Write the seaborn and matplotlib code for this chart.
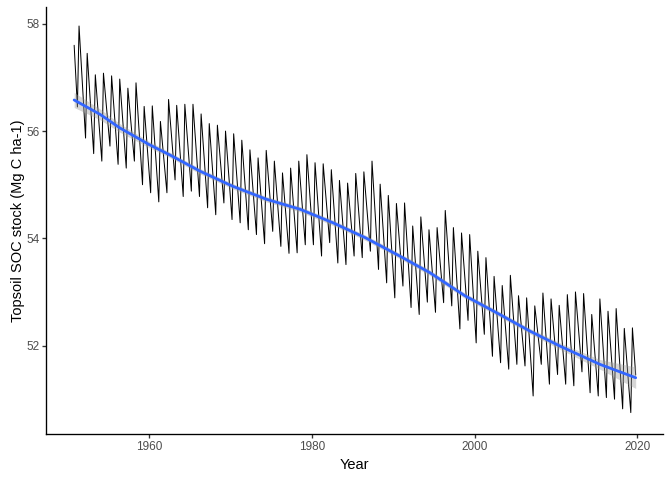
import numpy as np
import pandas as pd
import matplotlib
matplotlib.use("Agg")
import matplotlib.pyplot as plt
import seaborn as sns

# ---------------- data ----------------
years = list(range(1951, 2020))
peaks = [57.96, 57.45, 57.05, 57.08, 57.03, 56.97, 56.80, 56.90, 56.46, 56.47,
         56.18, 56.59, 56.48, 56.50, 56.50, 56.32, 56.14, 56.11, 56.00, 55.95,
         55.83, 55.65, 55.50, 55.64, 55.44, 55.22, 55.31, 55.44, 55.56, 55.41,
         55.39, 55.28, 55.08, 55.03, 55.21, 55.24, 55.44, 55.01, 54.80, 54.65,
         54.66, 54.23, 54.40, 54.16, 54.20, 54.52, 54.20, 54.10, 54.07, 53.76,
         53.64, 53.29, 53.12, 53.31, 52.93, 52.89, 52.74, 52.98, 52.87, 52.75,
         52.95, 53.00, 52.97, 52.58, 52.87, 52.64, 52.69, 52.32, 52.33]
troughs = [56.45, 55.87, 55.58, 55.44, 55.72, 55.38, 55.31, 55.44, 55.00, 54.85,
           54.68, 54.85, 55.09, 54.78, 54.88, 54.78, 54.57, 54.44, 54.66, 54.35,
           54.29, 54.16, 54.07, 53.90, 54.13, 53.85, 53.72, 53.73, 53.88, 53.88,
           53.67, 53.92, 53.54, 53.51, 53.67, 53.64, 53.76, 53.42, 53.17, 52.89,
           53.11, 52.71, 52.58, 52.81, 52.62, 52.80, 52.74, 52.31, 52.47, 52.05,
           52.21, 51.80, 51.68, 51.56, 51.65, 51.62, 51.06, 51.65, 51.28, 51.46,
           51.28, 51.25, 51.51, 51.12, 51.06, 51.03, 51.00, 50.82, 50.75]
start_year, start_value = 1950.8, 57.60
end_year, end_value = 2019.8, 51.45
trough_offset, peak_offset = 0.2, 0.4

# smoothed trend (blue line) and its confidence half-width
smooth_years = [1950.8, 1954.0, 1956.4, 1960.0, 1962.5, 1966.3, 1970.3, 1974.4,
                1978.6, 1982.6, 1986.6, 1990.8, 1994.5, 1998.8, 2003.1, 2006.8,
                2010.5, 2015.4, 2019.8]
smooth_values = [56.58, 56.31, 56.06, 55.75, 55.56, 55.25, 54.97, 54.73,
                 54.54, 54.29, 54.01, 53.67, 53.36, 52.93, 52.58, 52.27,
                 51.99, 51.65, 51.40]
smooth_halfwidth = [0.14, 0.10, 0.08, 0.06, 0.05, 0.05, 0.05, 0.05,
                    0.05, 0.05, 0.05, 0.05, 0.05, 0.05, 0.05, 0.05,
                    0.06, 0.09, 0.20]

x_ticks = [1960, 1980, 2000, 2020]
y_ticks = [52, 54, 56, 58]

assert len(peaks) == len(years) == len(troughs)

rows = [(start_year, start_value)]
for yr, t, p in zip(years, troughs, peaks):
    rows.append((yr + trough_offset, t))
    rows.append((yr + peak_offset, p))
rows.append((end_year, end_value))
df = pd.DataFrame(rows, columns=["Year", "SOC"])

smooth = pd.DataFrame({"Year": smooth_years, "fit": smooth_values,
                       "half": smooth_halfwidth})
smooth["lo"] = smooth["fit"] - smooth["half"]
smooth["hi"] = smooth["fit"] + smooth["half"]

# ---------------- plotting ----------------
sns.set_theme(style="ticks")
plt.rcParams["font.family"] = ["Liberation Sans", "DejaVu Sans"]

fig = plt.figure(figsize=(7, 5), dpi=96)
ax = fig.add_axes([46 / 672, 1 - 434.3 / 480, (662.7 - 46) / 672, (434.3 - 6.7) / 480])

sns.lineplot(data=df, x="Year", y="SOC", ax=ax, color="black", lw=0.75,
             sort=False, estimator=None)
ax.fill_between(smooth["Year"], smooth["lo"], smooth["hi"], color="#999999",
                alpha=0.4, lw=0, zorder=3)
sns.lineplot(data=smooth, x="Year", y="fit", ax=ax, color="#3366FF", lw=2.1,
             zorder=4, estimator=None)

ax.set_xlim(1947.34, 2023.12)
ax.set_ylim(50.345, 58.32)
ax.set_xticks(x_ticks)
ax.set_yticks(y_ticks)
ax.set_xlabel("Year", fontsize=11, color="black", labelpad=4)
ax.set_ylabel("Topsoil SOC stock (Mg C ha-1)", fontsize=11, color="black", labelpad=1)
ax.tick_params(axis="both", labelsize=8.8, labelcolor="#4D4D4D", color="#333333",
               length=2.75, width=1.0, pad=2.2)
for s in ["top", "right"]:
    ax.spines[s].set_visible(False)
for s in ["left", "bottom"]:
    ax.spines[s].set_linewidth(1.0)
    ax.spines[s].set_color("black")
ax.set_facecolor("white")
fig.patch.set_facecolor("white")

fig.savefig("out.png", dpi=96)
